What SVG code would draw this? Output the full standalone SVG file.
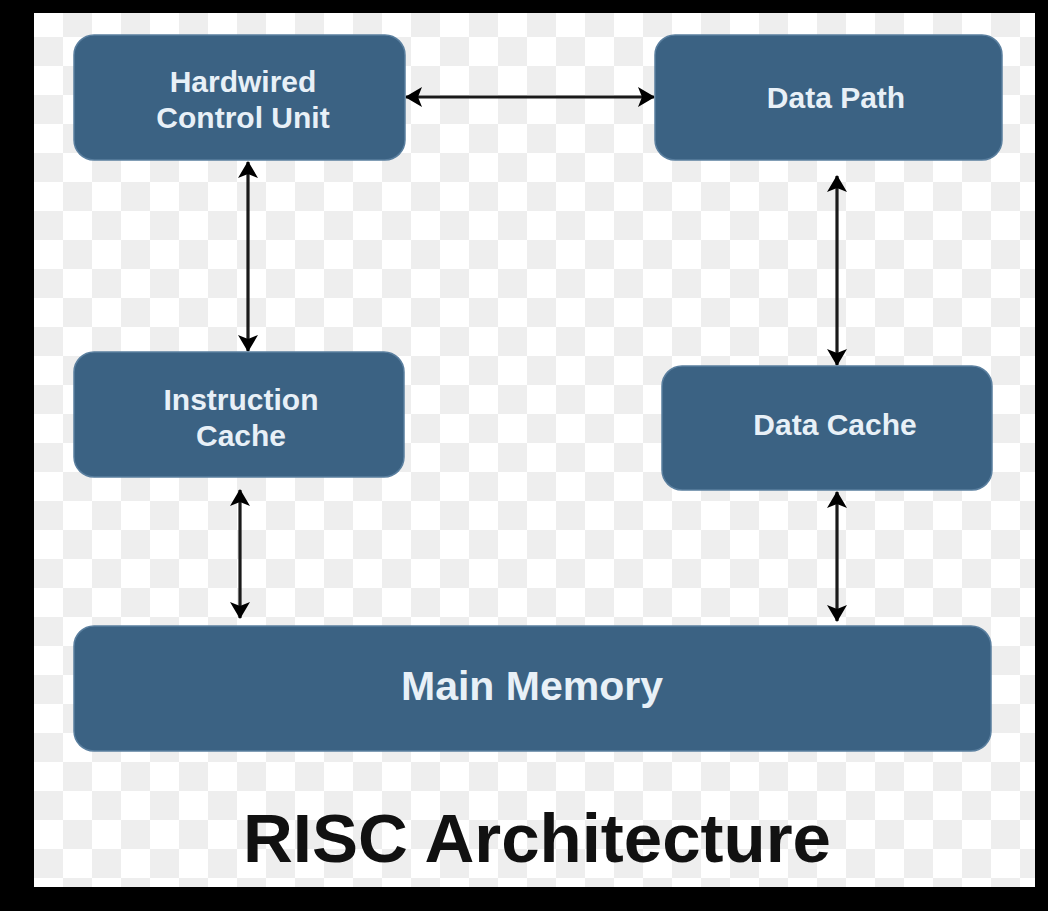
<svg xmlns="http://www.w3.org/2000/svg" width="1048" height="911" viewBox="0 0 1048 911">
  <defs>
    <pattern id="checker" x="34" y="8" width="58" height="58" patternUnits="userSpaceOnUse">
      <rect x="0" y="0" width="58" height="58" fill="#ffffff"/>
      <rect x="29" y="0" width="29" height="29" fill="#eeeeee"/>
      <rect x="0" y="29" width="29" height="29" fill="#eeeeee"/>
    </pattern>
    <marker id="arrow" viewBox="0 0 17 20" refX="16" refY="10" markerWidth="17" markerHeight="20" markerUnits="userSpaceOnUse" orient="auto-start-reverse">
      <path d="M0,0 L17,10 L0,20 L4,10 z" fill="#000"/>
    </marker>
    <style>
      .box { fill: #3b6283; stroke: #5a7f9f; stroke-width: 1.5; }
      .lbl { font-family: "Liberation Sans", Arial, sans-serif; font-weight: bold; font-size: 30px; fill: #e8f0f7; text-anchor: middle; }
      .conn { stroke: #1a1a1a; stroke-width: 3.2; fill: none; marker-start: url(#arrow); marker-end: url(#arrow); }
      .title { font-family: "Liberation Sans", Arial, sans-serif; font-weight: bold; font-size: 69px; fill: #111; text-anchor: middle; }
    </style>
  </defs>

  <rect x="0" y="0" width="1048" height="911" fill="#000"/>
  <rect x="34" y="13" width="1001" height="874" fill="url(#checker)"/>

  <g id="connectors">
    <line class="conn" x1="406" y1="97" x2="654" y2="97"/>
    <line class="conn" x1="248" y1="162" x2="248" y2="351"/>
    <line class="conn" x1="837" y1="176" x2="837" y2="365"/>
    <line class="conn" x1="240" y1="490" x2="240" y2="618"/>
    <line class="conn" x1="837" y1="492" x2="837" y2="621"/>
  </g>

  <g id="hardwired-control-unit">
    <rect class="box" x="74" y="35" width="331" height="125" rx="20"/>
    <text class="lbl" x="243" y="92">Hardwired</text>
    <text class="lbl" x="243" y="128">Control Unit</text>
  </g>

  <g id="data-path">
    <rect class="box" x="655" y="35" width="347" height="125" rx="20"/>
    <text class="lbl" x="836" y="108">Data Path</text>
  </g>

  <g id="instruction-cache">
    <rect class="box" x="74" y="352" width="330" height="125" rx="20"/>
    <text class="lbl" x="241" y="410">Instruction</text>
    <text class="lbl" x="241" y="446">Cache</text>
  </g>

  <g id="data-cache">
    <rect class="box" x="662" y="366" width="330" height="124" rx="20"/>
    <text class="lbl" x="835" y="435">Data Cache</text>
  </g>

  <g id="main-memory">
    <rect class="box" x="74" y="626" width="917" height="125" rx="20"/>
    <text class="lbl" x="532" y="700" style="font-size:41px">Main Memory</text>
  </g>

  <text class="title" x="537" y="862">RISC Architecture</text>
</svg>
